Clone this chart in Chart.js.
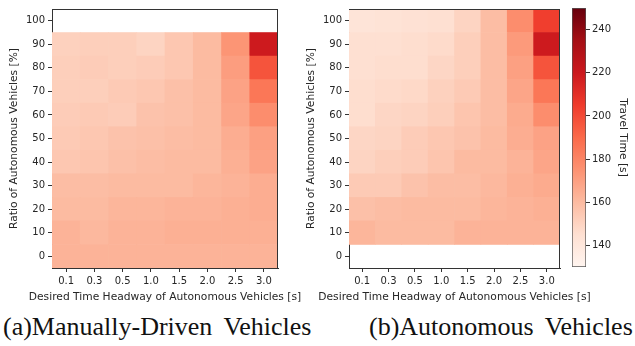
<!DOCTYPE html>
<html lang="en">
<head>
<meta charset="UTF-8" />
<title>Travel Time Heatmaps</title>
<script src="https://cdn.jsdelivr.net/npm/chart.js"></script>
<style>
  body { margin: 0; background: #fff; width: 635px; height: 346px; overflow: hidden; position: relative; }
  .box { position: absolute; top: 0; height: 306px; }
  .cap { position: absolute; top: 312px; font-family: "Liberation Serif", serif; font-size: 26px; color: #111; white-space: nowrap; word-spacing: 5px; line-height: 30px; }
</style>
</head>
<body>
  <div class="box" style="left:566px; width:69px;"><canvas id="colorbar"></canvas></div>
  <div class="box" style="left:0; width:306px;"><canvas id="manualChart"></canvas></div>
  <div class="box" style="left:296px; width:300px;"><canvas id="autoChart"></canvas></div>
  <div class="cap" style="left:3px;">(a)Manually-Driven Vehicles</div>
  <div class="cap" style="left:369px;">(b)Autonomous Vehicles</div>

<script>
// categories
const headways = ['0.1', '0.3', '0.5', '1.0', '1.5', '2.0', '2.5', '3.0'];
const ratioTicks = [0, 10, 20, 30, 40, 50, 60, 70, 80, 90, 100];
const manualRatios = [0, 10, 20, 30, 40, 50, 60, 70, 80, 90];
const autoRatios = [10, 20, 30, 40, 50, 60, 70, 80, 90, 100];

// travel time [s], one row per ratio (bottom to top), one value per headway
const manualTravel = [
  [163, 163, 163, 163, 163, 163, 163, 163],
  [163, 161, 163, 163, 164, 164, 164, 164],
  [160, 160, 162, 162, 163, 163, 164, 165],
  [159, 159, 160, 160, 160, 162, 163, 165],
  [155, 156, 158, 159, 160, 160, 164, 169],
  [154, 155, 157, 158, 159, 160, 165, 170],
  [153, 154, 153, 157, 158, 160, 168, 177],
  [152, 152, 154, 155, 158, 160, 169, 185],
  [152, 153, 152, 153, 155, 160, 171, 197],
  [151, 152, 152, 150, 155, 160, 174, 219]
];
const autoTravel = [
  [162, 160, 160, 160, 163, 163, 163, 163],
  [158, 159, 160, 160, 160, 162, 163, 164],
  [154, 154, 157, 159, 159, 161, 164, 166],
  [150, 152, 153, 156, 160, 160, 163, 168],
  [149, 150, 153, 155, 157, 160, 165, 169],
  [146, 149, 150, 152, 156, 159, 166, 177],
  [146, 147, 148, 151, 154, 159, 168, 185],
  [145, 146, 146, 149, 152, 159, 170, 197],
  [145, 145, 146, 147, 152, 159, 172, 219],
  [142, 143, 144, 145, 150, 159, 177, 204]
];

// colour scale
const cbRange = [130, 250];
const cbTicks = [140, 160, 180, 200, 220, 240];
const reds = ['#fff5f0', '#fee0d2', '#fcbba1', '#fc9272', '#fb6a4a', '#ef3b2c', '#cb181d', '#a50f15', '#67000d'];

const xTitle = 'Desired Time Headway of Autonomous Vehicles [s]';
const yTitle = 'Ratio of Autonomous Vehicles [%]';
const cbTitle = 'Travel Time [s]';

const textColor = '#262626';
const axisColor = '#333';
const tickFont = { family: 'DejaVu Sans', size: 10 };
const titleFont = { family: 'DejaVu Sans', size: 10.7 };

function hexToRgb(h) {
  return [parseInt(h.slice(1, 3), 16), parseInt(h.slice(3, 5), 16), parseInt(h.slice(5, 7), 16)];
}

function redsColor(v) {
  let t = (v - cbRange[0]) / (cbRange[1] - cbRange[0]);
  t = Math.max(0, Math.min(1, t));
  const pos = t * (reds.length - 1);
  const i = Math.min(Math.floor(pos), reds.length - 2);
  const f = pos - i;
  const a = hexToRgb(reds[i]), b = hexToRgb(reds[i + 1]);
  const c = a.map((x, k) => Math.round(x + (b[k] - x) * f));
  return `rgb(${c[0]},${c[1]},${c[2]})`;
}

function heatDatasets(ratios, grid) {
  return ratios.map((r, i) => ({
    data: headways.map(() => [r - 5, r + 5]),
    backgroundColor: grid[i].map(redsColor),
    grouped: false,
    barPercentage: 1,
    categoryPercentage: 1,
    borderWidth: 0
  }));
}

// top/right spines + x title (chart.js would squeeze the title into the plot width)
const framePlugin = {
  id: 'frame',
  afterDraw(chart) {
    const { ctx, chartArea: a } = chart;
    ctx.save();
    ctx.strokeStyle = axisColor;
    ctx.lineWidth = 1;
    ctx.beginPath();
    ctx.moveTo(a.left, a.top + 0.5);
    ctx.lineTo(a.right, a.top + 0.5);
    ctx.moveTo(a.right - 0.5, a.top);
    ctx.lineTo(a.right - 0.5, a.bottom);
    ctx.stroke();
    ctx.fillStyle = textColor;
    ctx.font = `${titleFont.size}px "${titleFont.family}"`;
    ctx.textAlign = 'center';
    ctx.textBaseline = 'middle';
    ctx.fillText(xTitle, (a.left + a.right) / 2, 297.5);
    ctx.restore();
  }
};

function heatChart(id, ratios, grid, yAxisWidth, yTitlePad, rightPad) {
  return new Chart(document.getElementById(id), {
    type: 'bar',
    data: { labels: headways, datasets: heatDatasets(ratios, grid) },
    options: {
      responsive: true,
      maintainAspectRatio: false,
      animation: false,
      layout: { padding: { top: 5, right: rightPad, left: 0, bottom: 0 } },
      plugins: { legend: { display: false }, tooltip: { enabled: false } },
      scales: {
        x: {
          type: 'category',
          grid: { drawOnChartArea: false, offset: false, tickLength: 4, color: axisColor },
          border: { color: axisColor },
          ticks: { color: textColor, padding: 3.5, font: tickFont },
          afterFit: s => { s.height = 38; }
        },
        y: {
          type: 'linear',
          min: -5,
          max: 105,
          afterBuildTicks: s => { s.ticks = ratioTicks.map(v => ({ value: v })); },
          grid: { drawOnChartArea: false, tickLength: 4, color: axisColor },
          border: { color: axisColor },
          ticks: { color: textColor, padding: 3, font: tickFont },
          title: { display: true, text: yTitle, color: textColor,
                   font: titleFont, padding: { top: yTitlePad, bottom: 0 } },
          afterFit: s => { s.width = yAxisWidth; }
        }
      }
    },
    plugins: [framePlugin]
  });
}

heatChart('manualChart', manualRatios, manualTravel, 52, 8, 28);
heatChart('autoChart', autoRatios, autoTravel, 53, 8.5, 36);

new Chart(document.getElementById('colorbar'), {
  type: 'bar',
  data: {
    labels: [''],
    datasets: [{
      data: [cbRange],
      barPercentage: 1,
      categoryPercentage: 1,
      borderWidth: 1,
      borderColor: '#555',
      borderSkipped: false,
      backgroundColor: ctx => {
        const chart = ctx.chart;
        if (!chart.chartArea) return reds[0];
        const y = chart.scales.y;
        const g = chart.ctx.createLinearGradient(0, y.getPixelForValue(cbRange[0]), 0, y.getPixelForValue(cbRange[1]));
        reds.forEach((c, i) => g.addColorStop(i / (reds.length - 1), c));
        return g;
      }
    }]
  },
  options: {
    responsive: true,
    maintainAspectRatio: false,
    animation: false,
    layout: { padding: { top: 5, left: 6, right: 0, bottom: 39 } },
    plugins: { legend: { display: false }, tooltip: { enabled: false } },
    scales: {
      x: { display: false },
      y: {
        position: 'right',
        min: cbRange[0],
        max: cbRange[1],
        afterBuildTicks: s => { s.ticks = cbTicks.map(v => ({ value: v })); },
        grid: { drawOnChartArea: false, tickLength: 4, color: axisColor },
        border: { display: false },
        ticks: { color: textColor, padding: 2, font: tickFont },
        title: { display: true, text: cbTitle, color: textColor,
                 font: titleFont, padding: { top: 5.5, bottom: 0 } },
        afterFit: s => { s.width = 49; }
      }
    }
  }
});
</script>
</body>
</html>
